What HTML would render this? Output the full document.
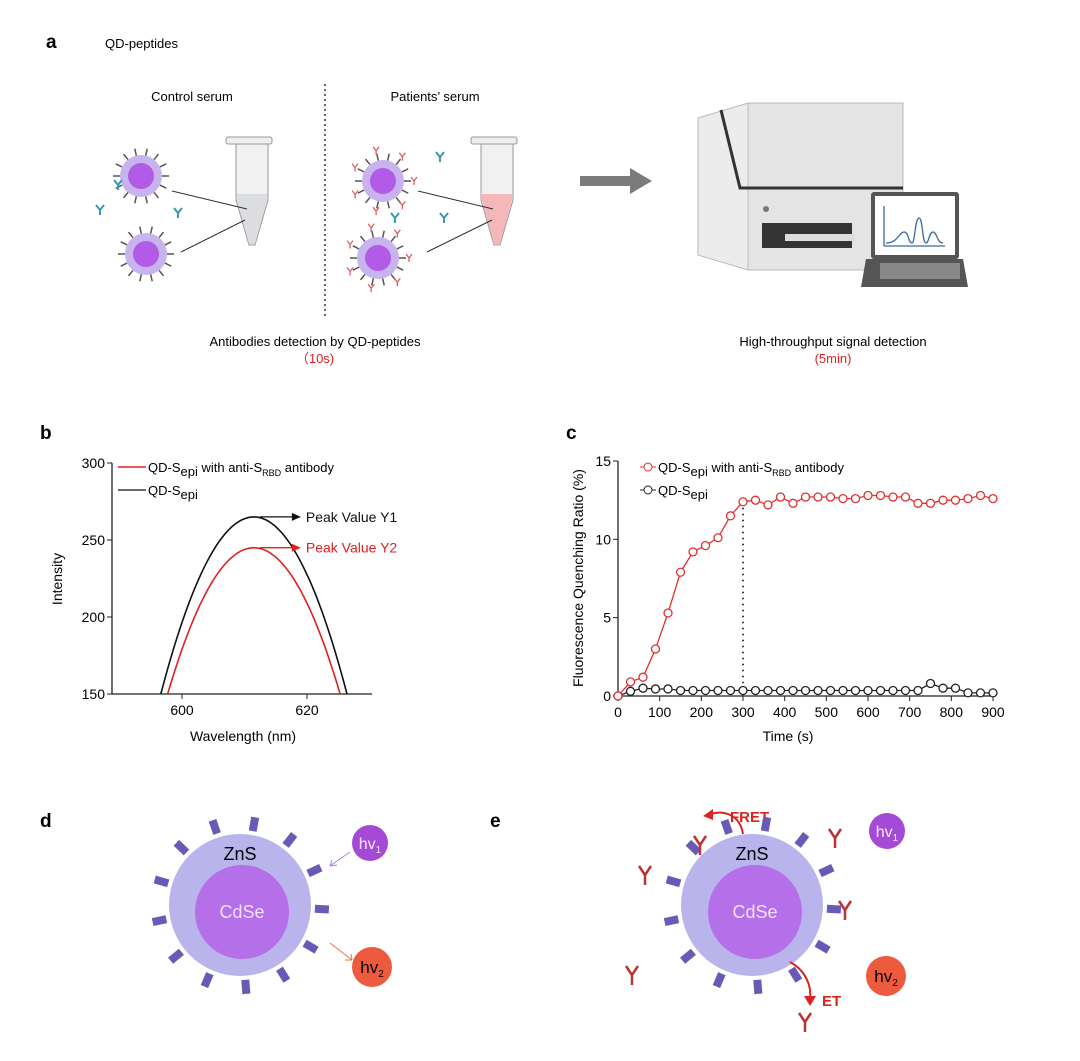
<!DOCTYPE html>
<html><head><meta charset="utf-8"><style>
html,body{margin:0;padding:0;background:#fff}
svg{display:block;font-family:"Liberation Sans",Arial,sans-serif}
</style></head><body>
<svg id="fig" width="1080" height="1061" viewBox="0 0 1080 1061" xmlns="http://www.w3.org/2000/svg">
<rect width="1080" height="1061" fill="#fff"/>
<!-- Panel a -->
<g>
<text x="46" y="48" font-size="19" font-weight="bold">a</text>
<text x="105" y="48" font-size="13">QD-peptides</text>
<text x="192" y="101" font-size="13" text-anchor="middle">Control serum</text>
<text x="435" y="101" font-size="13" text-anchor="middle">Patients’ serum</text>
<line x1="325" y1="84" x2="325" y2="316" stroke="#333" stroke-width="1.5" stroke-dasharray="2,3"/>
<g><circle cx="141" cy="176" r="21" fill="#c9b3ee"/><circle cx="141" cy="176" r="13" fill="#b25be6"/></g>
<g><circle cx="146" cy="254" r="21" fill="#c9b3ee"/><circle cx="146" cy="254" r="13" fill="#b25be6"/></g>
<g><circle cx="383" cy="181" r="21" fill="#c9b3ee"/><circle cx="383" cy="181" r="13" fill="#b25be6"/></g>
<g><circle cx="378" cy="258" r="21" fill="#c9b3ee"/><circle cx="378" cy="258" r="13" fill="#b25be6"/></g>
<g id="spikes"></g>
<g>
<rect x="226" y="137" width="46" height="7" rx="2" fill="#eee" stroke="#999"/>
<path d="M236 144 L268 144 L268 200 L255 245 L249 245 L236 200 Z" fill="#f1f1f1" stroke="#999"/>
<path d="M237 194 L267 194 L267 200 L255 244 L249 244 L237 200 Z" fill="#dcdde0"/>
</g>
<g>
<rect x="471" y="137" width="46" height="7" rx="2" fill="#eee" stroke="#999"/>
<path d="M481 144 L513 144 L513 200 L500 245 L494 245 L481 200 Z" fill="#f1f1f1" stroke="#999"/>
<path d="M482 194 L512 194 L512 200 L500 244 L494 244 L482 200 Z" fill="#f6b7b9"/>
</g>
<g stroke="#333" stroke-width="1">
<line x1="172" y1="191" x2="247" y2="209"/><line x1="181" y1="252" x2="245" y2="220"/>
<line x1="418" y1="191" x2="493" y2="209"/><line x1="427" y1="252" x2="492" y2="220"/>
</g>
<path d="M580 176 L630 176 L630 168 L652 181 L630 194 L630 186 L580 186 Z" fill="#7b7b7b"/>
<g>
<path d="M698 118 L748 103 L903 106 L903 270 L748 270 L698 255 Z" fill="#ececec" stroke="#bbb"/>
<rect x="748" y="103" width="155" height="167" fill="#e4e4e4" stroke="#bbb"/>
<polyline points="721,110 740,188 903,188" fill="none" stroke="#333" stroke-width="3"/>
<rect x="762" y="223" width="90" height="25" fill="#333"/>
<rect x="785" y="234" width="70" height="7" fill="#ddd"/>
<circle cx="766" cy="209" r="3" fill="#777"/>
</g>
<g>
<rect x="871" y="192" width="88" height="67" fill="#555" rx="3"/>
<rect x="875" y="196" width="80" height="59" fill="#fff"/>
<path d="M884 246 L884 206 M884 246 L945 246 M886 243 C898 243 899 232 904 232 C909 232 908 243 912 243 C915 243 915 218 919 218 C923 218 922 243 926 243 C929 243 929 232 933 232 C937 232 937 243 943 243" stroke="#3a6a9a" fill="none" stroke-width="1.3"/>
<path d="M866 259 L963 259 L968 287 L861 287 Z" fill="#555"/>
<rect x="880" y="263" width="80" height="16" fill="#888"/>
</g>
<text x="315" y="346" font-size="13" text-anchor="middle">Antibodies detection by QD-peptides</text>
<text x="315" y="363" font-size="13" text-anchor="middle" fill="#e02020">（10s)</text>
<text x="833" y="346" font-size="13" text-anchor="middle">High-throughput signal detection</text>
<text x="833" y="363" font-size="13" text-anchor="middle" fill="#e02020">(5min)</text>
</g>
<!-- Panel b -->
<g id="panelb">
<text x="40" y="439" font-size="19" font-weight="bold">b</text>
</g>
<!-- Panel c -->
<g id="panelc">
<text x="566" y="439" font-size="19" font-weight="bold">c</text>
</g>
<!-- Panel d -->
<g>
<text x="40" y="827" font-size="19" font-weight="bold">d</text>
<circle cx="240" cy="905" r="71" fill="#b9b5ec"/>
<circle cx="242" cy="912" r="47" fill="#b56fe8"/>
<text x="240" y="860" font-size="18" text-anchor="middle">ZnS</text>
<text x="242" y="918" font-size="18" text-anchor="middle" fill="#f0e0ff">CdSe</text>
<circle cx="370" cy="843" r="18" fill="#a54ad6"/>
<text x="370" y="849" font-size="16" text-anchor="middle" fill="#f5e8ff">hv<tspan font-size="10" dy="4">1</tspan></text>
<circle cx="372" cy="967" r="20" fill="#ee5a3e"/>
<text x="372" y="973" font-size="17" text-anchor="middle">hv<tspan font-size="10" dy="4">2</tspan></text>
<path d="M350 852 L330 866 M330 866 l7 -1 M330 866 l2 -6" stroke="#b57be0" fill="none"/>
<path d="M330 943 L352 960 M352 960 l-7 0 M352 960 l-1 -6" stroke="#e07a40" fill="none"/>
</g>
<!-- Panel e -->
<g>
<text x="490" y="827" font-size="19" font-weight="bold">e</text>
<circle cx="752" cy="905" r="71" fill="#b9b5ec"/>
<circle cx="755" cy="912" r="47" fill="#b56fe8"/>
<text x="752" y="860" font-size="18" text-anchor="middle">ZnS</text>
<text x="755" y="918" font-size="18" text-anchor="middle" fill="#f0e0ff">CdSe</text>
<circle cx="887" cy="831" r="18" fill="#a54ad6"/>
<text x="887" y="837" font-size="16" text-anchor="middle" fill="#f5e8ff">hv<tspan font-size="10" dy="4">1</tspan></text>
<circle cx="886" cy="976" r="20" fill="#ee5a3e"/>
<text x="886" y="982" font-size="17" text-anchor="middle">hv<tspan font-size="10" dy="4">2</tspan></text>
<path d="M743 834 C740 815 725 810 710 814" stroke="#d22" stroke-width="2" fill="none"/>
<path d="M703 816 l10 -7 l0 11z" fill="#d22"/>
<text x="730" y="822" font-size="15" font-weight="bold" fill="#d22">FRET</text>
<path d="M790 962 C805 970 812 985 810 1000" stroke="#d22" stroke-width="2" fill="none"/>
<path d="M804 996 l12 0 l-6 10z" fill="#d22"/>
<text x="822" y="1006" font-size="15" font-weight="bold" fill="#d22">ET</text>
</g>
<g id="peptides"></g>
<script>
const NS="http://www.w3.org/2000/svg";
function mk(tag,attrs,parent){const e=document.createElementNS(NS,tag);for(const k in attrs)e.setAttribute(k,attrs[k]);(parent||document.getElementById('fig')).appendChild(e);return e;}
function legText(parent,x,y,parts){const t=mk('text',{x:x,y:y,'font-size':13},parent);
 parts.forEach(([s,dy,fs])=>{const ts=mk('tspan',{dy:dy},t);if(fs)ts.setAttribute('font-size',fs);ts.textContent=s;});return t;}
const sp=document.getElementById('spikes');
[[141,176,0],[146,254,0],[383,181,1],[378,258,1]].forEach(([cx,cy,red])=>{
 for(let i=0;i<14;i++){const a=i/14*Math.PI*2;
  mk('line',{x1:cx+21*Math.cos(a),y1:cy+21*Math.sin(a),x2:cx+28*Math.cos(a),y2:cy+28*Math.sin(a),stroke:'#555','stroke-width':1.5},sp);
  if(red&&i%2==0)mk('path',{d:`M${cx+31*Math.cos(a)} ${cy+31*Math.sin(a)} l3 -4 m-3 4 l-3 -4 m3 4 l0 4`,stroke:'#d55','stroke-width':1.2,fill:'none'},sp);}
});
[[118,185],[100,210],[178,213],[440,157],[395,218],[444,218]].forEach(([x,y])=>mk('path',{d:`M${x} ${y} l-4 -5 m4 5 l4 -5 m-4 5 l0 5`,stroke:'#3a9ab0','stroke-width':2,fill:'none'},sp));
const pp=document.getElementById('peptides');
[[240,905],[752,905]].forEach(([cx,cy])=>{for(let i=0;i<13;i++){const a=i/13*Math.PI*2-1.4;
 mk('rect',{x:cx+82*Math.cos(a)-4,y:cy+82*Math.sin(a)-7,width:8,height:14,fill:'#6a5ab8',transform:`rotate(${a*57+90} ${cx+82*Math.cos(a)} ${cy+82*Math.sin(a)})`},pp);}});
[[700,845],[645,875],[835,838],[845,910],[632,975],[805,1022]].forEach(([x,y])=>mk('path',{d:`M${x} ${y} l-6 -9 m6 9 l6 -9 m-6 9 l0 10`,stroke:'#b33','stroke-width':2.5,fill:'none'},pp));
</script>
<script>
// ===== Panel b data =====
const bWavelengthTicks=[600,620];
const bIntensityTicks=[150,200,250,300];
const bPeakWavelength=[611.5,611.5];
const bPeakIntensity=[265,245];
const bBaseHalfWidth=[14.9,13.8];
const bColors=['#111','#e02020'];
(function(){
 const g=document.getElementById('panelb');
 const X0=112,X1=372,Y0=694,Y1=463;
 const xs=v=>182+(v-600)*6.25, ys=v=>Y0-(v-150)*(Y0-Y1)/150;
 const ax=mk('path',{d:`M${X0} ${Y1} L${X0} ${Y0} L${X1} ${Y0}`,stroke:'#222','stroke-width':1.3,fill:'none'},g);
 
 
 bIntensityTicks.forEach(t=>{mk('line',{x1:X0-5,x2:X0,y1:ys(t),y2:ys(t),stroke:'#222'},g);
  const tx=mk('text',{x:X0-7,y:ys(t)+5,'font-size':14,'text-anchor':'end'},g);tx.textContent=t;
  
  });
 bWavelengthTicks.forEach(t=>{mk('line',{x1:xs(t),x2:xs(t),y1:Y0,y2:Y0+5,stroke:'#222'},g);
  const tx=mk('text',{x:xs(t),y:Y0+21,'font-size':14,'text-anchor':'middle'},g);tx.textContent=t;
  
  });
 for(let s=0;s<2;s++){let d='';const p=bPeakWavelength[s],h=bPeakIntensity[s],w=bBaseHalfWidth[s];
  for(let i=0;i<=60;i++){const x=p-w+2*w*i/60;const u=(x-p)/w;const y=150+(h-150)*(1-u*u);d+=(i?'L':'M')+xs(x).toFixed(1)+' '+ys(y).toFixed(1);}
  const c=mk('path',{d,stroke:bColors[s],'stroke-width':1.6,fill:'none'},g);
  
  
  const yy=ys(h);mk('line',{x1:xs(p)+6,x2:xs(p)+40,y1:yy,y2:yy,stroke:bColors[s],'stroke-width':1.3},g);
  mk('path',{d:`M${xs(p)+38} ${yy-4} L${xs(p)+47} ${yy} L${xs(p)+38} ${yy+4}Z`,fill:bColors[s]},g);
  const lt=mk('text',{x:xs(p)+52,y:yy+5,'font-size':14,fill:bColors[s]},g);lt.textContent='Peak Value '+(s?'Y2':'Y1');
  
  }
 const yl=mk('text',{x:0,y:0,'font-size':14,'text-anchor':'middle',transform:`translate(62 579) rotate(-90)`},g);yl.textContent='Intensity';
 
 
 const xl=mk('text',{x:243,y:741,'font-size':14,'text-anchor':'middle'},g);xl.textContent='Wavelength (nm)';
 
 
 const leg=mk('g',{},g);
 
 
 mk('line',{x1:118,x2:146,y1:467,y2:467,stroke:'#e02020','stroke-width':1.5},leg);
 mk('line',{x1:118,x2:146,y1:490,y2:490,stroke:'#111','stroke-width':1.2},leg);
 legText(leg,148,472,[['QD-S',0],['epi',4],[' with anti-S',-4],['RBD',4,9],[' antibody',-4]]);
 legText(leg,148,495,[['QD-S',0],['epi',4]]);
})();
// ===== Panel c data =====
const cTimes=[0,30,60,90,120,150,180,210,240,270,300,330,360,390,420,450,480,510,540,570,600,630,660,690,720,750,780,810,840,870,900];
const cRedValues=[0,0.9,1.2,3.0,5.3,7.9,9.2,9.6,10.1,11.5,12.4,12.5,12.2,12.7,12.3,12.7,12.7,12.7,12.6,12.6,12.8,12.8,12.7,12.7,12.3,12.3,12.5,12.5,12.6,12.8,12.6];
const cBlackValues=[0,0.3,0.5,0.45,0.45,0.35,0.35,0.35,0.35,0.35,0.35,0.35,0.35,0.35,0.35,0.35,0.35,0.35,0.35,0.35,0.35,0.35,0.35,0.35,0.35,0.8,0.5,0.5,0.2,0.2,0.2];
const cXTicks=[0,100,200,300,400,500,600,700,800,900];
const cYTicks=[0,5,10,15];
(function(){
 const g=document.getElementById('panelc');
 const X0=618,X1=993,Y0=696,Y1=461;
 const xs=v=>X0+v*(X1-X0)/900, ys=v=>Y0-v*(Y0-Y1)/15;
 const ax=mk('path',{d:`M${X0} ${Y1} L${X0} ${Y0} L${X1} ${Y0}`,stroke:'#222','stroke-width':1.3,fill:'none'},g);
 
 
 cYTicks.forEach(t=>{mk('line',{x1:X0-5,x2:X0,y1:ys(t),y2:ys(t),stroke:'#222'},g);
  const tx=mk('text',{x:X0-7,y:ys(t)+5,'font-size':14,'text-anchor':'end'},g);tx.textContent=t;
  
  });
 cXTicks.forEach(t=>{mk('line',{x1:xs(t),x2:xs(t),y1:Y0,y2:Y0+5,stroke:'#222'},g);
  const tx=mk('text',{x:xs(t),y:Y0+21,'font-size':14,'text-anchor':'middle'},g);tx.textContent=t;
  
  });
 mk('line',{x1:xs(300),x2:xs(300),y1:ys(12.4),y2:Y0,stroke:'#222','stroke-width':1.8,'stroke-dasharray':'1.5,4.5'},g);
 [[cBlackValues,'#222'],[cRedValues,'#e03030']].forEach(([vals,col],s)=>{
  const pts=cTimes.map((t,i)=>xs(t).toFixed(1)+','+ys(vals[i]).toFixed(1)).join(' ');
  const l=mk('polyline',{points:pts,stroke:col,'stroke-width':1.3,fill:'none'},g);
  
  
  cTimes.forEach((t,i)=>{const c=mk('circle',{cx:xs(t),cy:ys(vals[i]),r:4,fill:'#fff',stroke:col,'stroke-width':1.3},g);
   
   });
 });
 const yl=mk('text',{x:0,y:0,'font-size':14,'text-anchor':'middle',transform:`translate(583 578) rotate(-90)`},g);yl.textContent='Fluorescence Quenching Ratio (%)';
 
 
 const xl=mk('text',{x:788,y:741,'font-size':14,'text-anchor':'middle'},g);xl.textContent='Time (s)';
 
 
 const leg=mk('g',{},g);
 
 
 mk('line',{x1:640,x2:656,y1:467,y2:467,stroke:'#e03030'},leg);mk('circle',{cx:648,cy:467,r:4,fill:'#fff',stroke:'#e03030'},leg);
 mk('line',{x1:640,x2:656,y1:490,y2:490,stroke:'#222'},leg);mk('circle',{cx:648,cy:490,r:4,fill:'#fff',stroke:'#222'},leg);
 legText(leg,658,472,[['QD-S',0],['epi',4],[' with anti-S',-4],['RBD',4,9],[' antibody',-4]]);
 legText(leg,658,495,[['QD-S',0],['epi',4]]);
})();
</script>
</svg>
</body></html>
